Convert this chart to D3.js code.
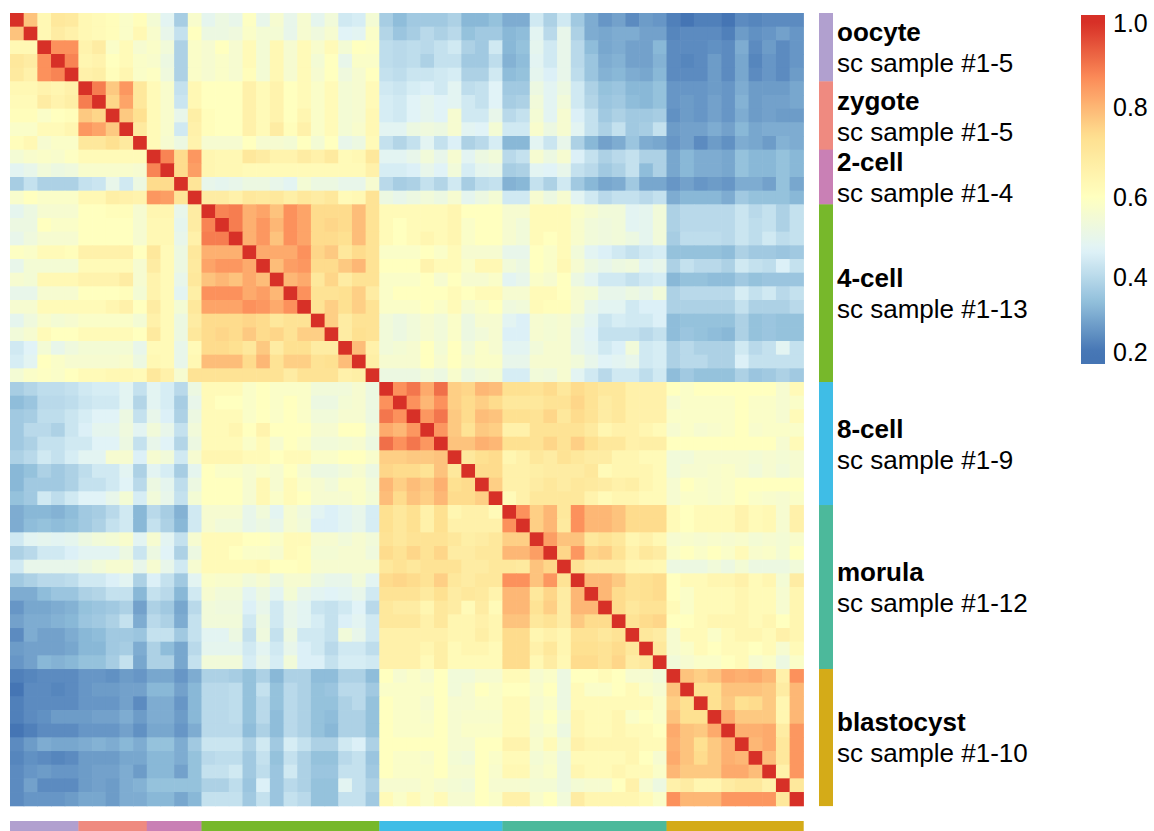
<!DOCTYPE html>
<html>
<head>
<meta charset="utf-8">
<script src="https://cdn.jsdelivr.net/npm/d3@7"></script>
<style>
  html, body { margin: 0; padding: 0; background: #ffffff; }
  svg { display: block; }
  text { font-family: "Liberation Sans", Arial, Helvetica, sans-serif; fill: #000; }
</style>
</head>
<body>
<svg id="chart" width="1154" height="831"></svg>
<script>
// Developmental stages of the single-cell samples, in row/column order
const stages = ["oocyte", "zygote", "2-cell", "4-cell", "8-cell", "morula", "blastocyst"];
const stageSizes = [5, 5, 4, 13, 9, 12, 10];
const stageColors = ["#b1a0cf", "#ef8a80", "#c980b5", "#77b82b", "#3fbde6", "#4cb99b", "#d4ab18"];

// Colour-bar tick labels
const legendTicks = [0.2, 0.4, 0.6, 0.8, 1.0];

// Reversed RdYlBu ramp (blue = low, red = high correlation)
const palette = ["#4575B4", "#91BFDB", "#E0F3F8", "#FFFFBF", "#FEE090", "#FC8D59", "#D73027"];

// Sample-by-sample correlation, lower triangle in hundredths:
// row i lists the correlation with samples 0..i-1 (diagonal is 1.0)
const corrLower = [
  [],
  [78],
  [63,63],
  [70,68,86],
  [69,66,86,88],
  [63,63,65,64,66],
  [62,62,68,65,67,89],
  [61,61,58,60,61,77,75],
  [58,58,62,62,64,85,83,77],
  [61,63,56,58,58,70,70,73,69],
  [55,57,58,57,59,62,62,62,62,62],
  [48,50,54,52,53,57,57,57,57,56,88],
  [37,42,38,38,38,42,43,50,44,52,74,74],
  [57,60,58,58,58,63,63,67,66,65,85,84,71],
  [49,52,56,56,56,60,60,61,61,56,64,64,50,68],
  [52,52,60,58,58,60,60,60,60,56,63,63,49,68,88],
  [50,53,56,56,56,60,60,60,60,56,63,63,50,66,89,89],
  [59,58,62,62,61,66,66,66,66,60,70,62,52,70,81,81,81],
  [50,55,55,55,55,62,62,62,62,56,68,62,52,69,83,85,85,82],
  [56,55,63,63,63,65,65,65,68,56,65,62,50,70,78,80,78,82,79],
  [50,50,56,56,56,60,60,60,61,55,65,62,48,67,86,86,86,82,84,80],
  [56,56,62,62,62,62,62,64,66,60,68,62,55,70,83,83,83,86,85,82,86],
  [49,53,57,55,56,58,58,58,58,55,66,62,52,68,74,74,74,75,74,70,72,72],
  [54,56,62,60,60,62,62,62,62,60,69,62,52,70,74,75,74,77,74,75,72,76,76],
  [44,47,55,50,53,55,55,55,55,50,62,62,50,62,74,74,73,70,77,68,73,73,68,68],
  [45,48,60,58,56,56,56,56,57,52,63,62,50,63,79,79,79,74,80,72,76,76,72,73,79],
  [55,58,59,58,60,62,62,63,63,62,70,66,56,72,72,72,72,72,72,72,68,72,72,72,66,67],
  [37,39,41,41,42,44,45,45,48,42,48,45,40,52,62,62,62,58,60,58,58,58,54,54,54,56,52],
  [33,35,40,40,41,43,44,44,48,39,48,45,37,50,62,60,60,58,60,58,60,58,52,52,55,56,52,86],
  [36,37,41,41,43,45,47,47,52,42,50,46,38,52,62,62,62,58,60,58,60,58,54,54,56,56,52,90,86],
  [36,40,40,38,43,46,49,49,53,48,54,50,42,54,62,62,64,60,65,60,60,60,56,56,60,60,54,82,80,85],
  [36,38,42,42,44,44,47,47,52,42,50,47,39,52,62,62,62,58,62,56,60,58,54,54,55,56,52,91,86,90,85],
  [38,40,44,42,45,48,48,56,56,46,56,54,44,56,64,64,64,62,62,60,62,62,58,58,60,60,57,76,76,77,77,78],
  [32,34,38,36,38,41,44,44,48,38,48,45,37,49,60,58,58,56,58,56,60,56,52,52,54,56,52,75,74,74,72,78,70],
  [32,36,36,36,38,42,42,44,47,40,52,49,41,52,60,60,60,56,63,56,62,58,56,54,58,58,54,80,76,79,77,81,73,74],
  [34,36,44,41,44,47,47,50,55,45,54,50,42,55,60,60,60,56,63,58,62,60,56,56,56,58,55,79,74,78,76,80,74,74,76],
  [30,32,32,31,33,36,37,40,44,32,40,37,31,44,56,56,56,50,54,48,56,53,48,46,48,50,45,73,70,73,66,73,64,66,66,62],
  [30,33,34,33,34,36,38,42,44,32,42,38,32,44,56,54,54,50,52,50,56,54,46,46,48,50,45,73,70,73,66,73,66,66,66,66,86],
  [44,48,49,48,49,52,54,55,57,48,56,48,42,56,62,62,62,60,60,58,62,62,56,56,54,56,54,72,70,72,72,72,70,67,68,70,76,76],
  [38,40,44,44,46,48,48,48,52,43,52,47,38,52,62,62,60,58,58,56,62,61,55,55,56,56,53,74,72,75,72,75,68,68,70,70,80,80,84],
  [44,50,50,50,50,52,54,56,56,50,56,50,44,56,62,62,62,62,63,60,60,61,56,56,56,56,56,70,72,70,72,72,72,68,68,70,70,69,78,75],
  [36,38,40,40,41,44,44,46,48,38,46,42,36,48,58,57,57,54,56,52,56,56,52,50,50,54,48,74,75,74,72,76,70,68,70,70,86,86,78,85,72],
  [30,30,33,35,35,38,39,42,42,32,42,40,32,44,56,54,54,48,52,48,55,50,48,47,48,50,44,72,72,72,69,73,68,70,69,65,80,80,70,75,68,80],
  [26,29,29,30,31,34,35,36,38,28,38,36,29,40,54,53,53,46,50,44,50,48,43,42,44,47,40,70,68,68,64,70,68,62,68,62,80,80,72,76,68,80,80],
  [28,30,30,31,32,35,36,38,42,30,40,38,30,42,54,54,54,44,52,44,50,48,45,42,46,48,44,70,70,70,66,70,64,64,66,64,78,78,70,72,68,77,74,74],
  [24,30,28,28,30,32,33,36,36,35,42,42,36,42,48,48,52,42,53,42,52,44,44,42,54,50,44,66,66,66,66,66,64,64,67,64,74,74,64,66,64,72,72,70,72],
  [27,28,28,28,29,32,32,36,37,30,38,33,29,40,49,49,49,44,48,44,50,46,44,40,44,44,41,66,66,66,64,67,62,64,64,62,74,74,66,70,64,73,73,72,74,70],
  [26,28,32,31,32,34,34,37,42,29,38,38,29,42,54,54,54,45,50,45,54,46,46,42,45,45,44,66,66,66,62,67,62,62,62,62,74,74,63,68,63,74,74,72,75,68,70],
  [22,23,24,24,24,26,26,25,27,26,29,29,26,30,38,38,37,34,38,32,38,38,33,33,38,38,33,60,56,58,56,60,54,54,56,56,62,62,56,58,52,60,60,62,60,56,56,54],
  [20,24,24,23,24,26,27,27,28,28,32,32,28,32,40,40,41,34,42,34,40,38,34,35,40,40,36,58,58,58,58,60,54,56,60,58,60,60,57,60,52,62,58,58,60,62,58,56,78],
  [22,24,24,24,24,26,26,26,28,24,30,30,26,32,40,40,41,34,40,34,40,38,34,34,38,40,34,60,58,58,56,60,56,56,58,58,62,62,56,58,52,62,62,62,62,62,62,58,76,73],
  [22,24,25,27,27,27,28,28,30,27,30,30,27,32,40,40,41,34,40,33,40,38,34,33,38,38,34,60,58,58,57,60,56,57,57,57,62,62,57,60,54,64,62,62,64,58,60,58,78,73,73],
  [20,22,24,24,24,26,26,26,28,25,29,29,26,30,40,40,40,33,38,33,40,38,34,32,38,38,34,60,58,58,58,60,56,58,58,58,62,62,56,58,52,64,62,62,64,62,62,60,82,78,77,82],
  [24,27,30,29,29,30,31,30,32,30,34,34,30,36,43,43,43,38,44,36,45,42,38,38,44,46,38,60,60,60,60,60,56,56,60,60,65,65,57,62,55,66,64,64,64,64,62,62,81,78,73,77,81],
  [23,25,24,23,24,27,27,27,29,29,32,32,30,34,40,41,41,36,42,34,42,38,34,34,40,42,35,60,58,58,57,60,55,54,60,58,62,62,55,57,52,62,62,62,62,64,60,56,82,78,74,77,81,80],
  [24,26,27,26,26,27,28,28,30,27,32,32,28,34,42,42,44,36,41,35,44,38,35,35,42,42,36,60,58,58,58,60,56,56,60,57,63,63,56,58,52,64,62,62,64,62,62,58,80,77,77,77,82,82,79],
  [24,28,24,24,24,27,28,27,30,31,34,34,34,34,38,38,41,35,46,35,40,38,34,34,48,42,38,56,56,56,58,56,55,54,60,56,56,56,55,55,52,55,56,56,60,66,56,52,66,68,64,64,68,70,70,66],
  [24,26,26,26,27,29,29,27,30,30,32,32,29,32,42,42,42,36,42,35,42,40,34,34,42,42,36,62,58,62,58,62,56,56,60,58,66,66,57,60,54,68,64,64,64,64,62,58,86,80,80,80,85,85,85,85,70]
];

// ---- derived structures ----
const samples = [];
stages.forEach((s, si) => {
  for (let k = 1; k <= stageSizes[si]; k++) samples.push({ stage: s, stageIndex: si, rep: k });
});
const N = samples.length;

function corr(i, j) {
  if (i === j) return 1;
  return (i > j ? corrLower[i][j] : corrLower[j][i]) / 100;
}

const cells = [];
for (let i = 0; i < N; i++) for (let j = 0; j < N; j++) cells.push({ row: i, col: j, value: corr(i, j) });

// stage blocks: first index and length
let acc = 0;
const blocks = stages.map((s, si) => {
  const b = { stage: s, start: acc, size: stageSizes[si], color: stageColors[si] };
  acc += stageSizes[si];
  return b;
});

// ---- layout ----
const svg = d3.select("#chart");
const heat = { left: 10, top: 13, right: 803.3, bottom: 805.7 };

const x = d3.scaleBand().domain(d3.range(N)).range([heat.left, heat.right]).paddingInner(0);
const y = d3.scaleBand().domain(d3.range(N)).range([heat.top, heat.bottom]).paddingInner(0);

const color = d3.scaleLinear()
  .domain(palette.map((_, k) => 0.2 + k * 0.8 / (palette.length - 1)))
  .range(palette)
  .interpolate(d3.interpolateRgb)
  .clamp(true);

// heatmap cells (slightly oversized so neighbouring cells leave no seams)
svg.append("g").attr("class", "cells")
  .selectAll("rect").data(cells).join("rect")
  .attr("x", d => x(d.col))
  .attr("y", d => y(d.row))
  .attr("width", x.bandwidth() + 0.6)
  .attr("height", y.bandwidth() + 0.6)
  .attr("fill", d => color(d.value));

// column annotation strip below the heatmap
svg.append("g").attr("class", "col-annot")
  .selectAll("rect").data(blocks).join("rect")
  .attr("x", d => x(d.start))
  .attr("y", 821)
  .attr("width", d => x(d.start + d.size - 1) + x.bandwidth() - x(d.start) + 0.4)
  .attr("height", 14)
  .attr("fill", d => d.color);

// row annotation strip on the right
svg.append("g").attr("class", "row-annot")
  .selectAll("rect").data(blocks).join("rect")
  .attr("x", 819)
  .attr("y", d => y(d.start))
  .attr("width", 14)
  .attr("height", d => y(d.start + d.size - 1) + y.bandwidth() - y(d.start) + 0.4)
  .attr("fill", d => d.color);

// stage labels
const lab = svg.append("g").attr("class", "stage-labels")
  .selectAll("g").data(blocks).join("g")
  .attr("transform", d => {
    const mid = y(d.start) + (d.size * y.bandwidth()) / 2;
    return `translate(837,${mid})`;
  });
lab.append("text")
  .attr("y", -15)
  .attr("dominant-baseline", "central")
  .attr("font-size", 26)
  .attr("font-weight", "bold")
  .text(d => d.stage);
lab.append("text")
  .attr("y", 16)
  .attr("dominant-baseline", "central")
  .attr("font-size", 26)
  .text(d => `sc sample #1-${d.size}`);

// ---- colour legend ----
const legendTop = 15, legendBottom = 364, legendX = 1081, legendW = 24;
const legendY = d3.scaleLinear().domain(legendTicks).range([352, 277, 197, 107, 23]);

const defs = svg.append("defs");
const grad = defs.append("linearGradient")
  .attr("id", "legend-grad")
  .attr("x1", 0).attr("y1", 0).attr("x2", 0).attr("y2", 1);
d3.range(0, 1.0001, 0.02).forEach(t => {
  const yy = legendTop + t * (legendBottom - legendTop);
  grad.append("stop")
    .attr("offset", t)
    .attr("stop-color", color(legendY.invert(yy)));
});
svg.append("rect")
  .attr("x", legendX).attr("y", legendTop)
  .attr("width", legendW).attr("height", legendBottom - legendTop)
  .attr("fill", "url(#legend-grad)");

svg.append("g").attr("class", "legend-ticks")
  .selectAll("text").data(legendTicks).join("text")
  .attr("x", 1113)
  .attr("y", d => legendY(d))
  .attr("dominant-baseline", "central")
  .attr("font-size", 25)
  .text(d3.format(".1f"));
</script>
</body>
</html>
